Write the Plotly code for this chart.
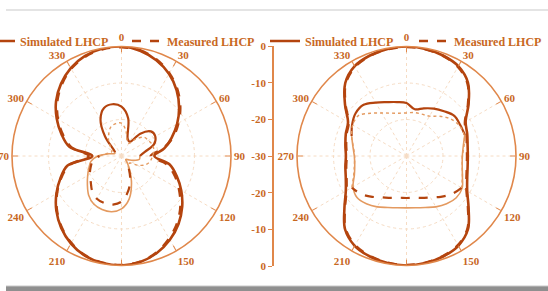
import plotly.graph_objects as go

# ---------------- data ----------------
theta = list(range(0, 360, 10))
angle_ticks = list(range(0, 360, 30))
angle_labels = ["" if a == 180 else str(a) for a in angle_ticks]
radial_ticks = [-30, -20, -10, 0, 10, 20, 30]
radial_labels = ["0", "-10", "-20", "-30", "-20", "-10", "0"]

# left pattern (dB)
left_sim_lhcp = [0, -0.7, -2.1, -4.0, -6.5, -9.4, -12.4, -15.4, -18.1, -21.0,
                 -16.6, -13.9, -11.1, -8.3, -5.7, -3.5, -1.7, -0.5, 0, -0.2,
                 -0.9, -2.3, -4.3, -6.7, -9.4, -12.2, -15.0, -22.0, -15.5, -12.5,
                 -9.5, -6.6, -4.2, -2.2, -0.8, -0.1]
left_meas_lhcp = [-0.2, -0.6, -1.9, -3.8, -6.2, -9.0, -12.0, -15.0, -18.5, -22.0,
                  -17.5, -14.5, -11.8, -8.9, -6.2, -3.9, -1.9, -0.6, -0.1, -0.3,
                  -1.0, -2.5, -4.5, -6.9, -9.6, -12.4, -15.4, -21.0, -16.0, -12.9,
                  -9.9, -7.0, -4.5, -2.4, -1.0, -0.3]
left_sim_rhcp = [-16.5, -19.5, -25.0, -25.5, -22.0, -19.5, -19.3, -20.5, -23.5, -25.0,
                 -25.0, -26.5, -28.0, -28.5, -27.5, -25.5, -22.0, -18.0, -15.5, -14.5,
                 -14.4, -14.8, -16.0, -17.8, -19.3, -20.5, -21.5, -23.5, -26.5, -28.0,
                 -28.0, -27.0, -23.0, -18.5, -16.0, -15.6]
left_meas_rhcp = [-21.0, -23.0, -25.5, -26.0, -24.0, -22.0, -21.5, -21.0, -21.0, -21.5,
                  -22.0, -23.0, -25.0, -27.0, -27.0, -26.0, -23.0, -20.0, -17.5, -16.5,
                  -16.3, -16.5, -17.5, -19.0, -20.0, -21.0, -22.0, -24.0, -26.0, -27.0,
                  -27.0, -26.0, -24.5, -23.0, -21.5, -21.0]

# right pattern (dB)
right_sim_lhcp = [0, -0.2, -0.7, -1.6, -3.8, -7.8, -11.3, -12.3, -13.0, -13.2,
                  -13.0, -12.3, -10.8, -7.8, -3.8, -1.6, -0.7, -0.2, 0, -0.2,
                  -0.7, -1.6, -3.8, -7.8, -10.8, -12.3, -13.0, -13.4, -13.0, -12.3,
                  -11.5, -8.0, -3.9, -1.6, -0.7, -0.2]
right_meas_lhcp = [-0.1, -0.3, -0.8, -1.8, -4.0, -8.0, -11.5, -12.5, -13.2, -13.4,
                   -13.2, -12.5, -11.0, -8.0, -4.0, -1.8, -0.8, -0.3, -0.1, -0.3,
                   -0.8, -1.8, -4.0, -8.0, -11.0, -12.5, -13.2, -13.6, -13.2, -12.5,
                   -11.7, -8.2, -4.1, -1.8, -0.8, -0.3]
right_sim_rhcp = [-15.5, -17.0, -16.1, -15.0, -14.0, -12.9, -13.0, -13.0, -14.2, -14.7,
                  -14.5, -13.7, -12.4, -12.2, -12.9, -13.9, -15.0, -15.6, -15.8, -15.6,
                  -15.0, -13.9, -12.9, -12.3, -13.1, -14.8, -15.6, -15.7, -15.1, -14.0,
                  -12.8, -11.8, -11.7, -13.1, -14.3, -15.0]
right_meas_rhcp = [-18.2, -17.9, -17.8, -17.4, -15.8, -14.2, -13.3, -13.2, -14.0, -14.7,
                   -14.5, -13.7, -12.6, -13.8, -15.4, -16.9, -17.8, -18.4, -18.5, -18.4,
                   -17.8, -16.9, -15.4, -13.8, -12.7, -14.6, -15.5, -15.8, -15.2, -14.0,
                   -13.0, -12.8, -14.7, -16.4, -17.5, -18.1]

# ---------------- style ----------------
DARK = "#b4440e"
LIGHT = "#e49a60"
AXIS = "#e0874a"
TEXT = "#c8681f"
GRID = "#f6dcc4"
FONT = dict(family="Liberation Serif", size=11, color=TEXT, weight="bold")


def closed(vals):
    return list(vals) + [vals[0]]


def seg(vals, start, end):
    """slice of a pattern between two angles (degrees), wrapping through 0"""
    i, j = theta.index(start), theta.index(end)
    idx = []
    k = i
    while True:
        idx.append(k)
        if k == j:
            break
        k = (k + 1) % len(theta)
    return [theta[k] for k in idx], [vals[k] for k in idx]


fig = go.Figure()


def add_chart(pid, leg_a, leg_b, sim_l, meas_l, sim_r, meas_r, r_dark, r_light, m_dark, m_light):
    th = closed(theta)
    fig.add_trace(go.Scatterpolar(r=closed(sim_l), theta=th, mode="lines", subplot=pid,
                                  name="Simulated LHCP", legend=leg_a,
                                  line=dict(color=DARK, width=2.6, shape="spline")))
    fig.add_trace(go.Scatterpolar(r=closed(meas_l), theta=th, mode="lines", subplot=pid,
                                  name="Measured LHCP", legend=leg_b,
                                  line=dict(color=DARK, width=2.6, dash="dash", shape="spline")))
    t, r = seg(sim_r, *r_dark)
    fig.add_trace(go.Scatterpolar(r=r, theta=t, mode="lines", subplot=pid, showlegend=False,
                                  line=dict(color=DARK, width=2.2, shape="spline")))
    t, r = seg(sim_r, *r_light)
    fig.add_trace(go.Scatterpolar(r=r, theta=t, mode="lines", subplot=pid, showlegend=False,
                                  line=dict(color=LIGHT, width=1.6, shape="spline")))
    t, r = seg(meas_r, *m_dark)
    fig.add_trace(go.Scatterpolar(r=r, theta=t, mode="lines", subplot=pid, showlegend=False,
                                  line=dict(color=DARK, width=2.2, dash="dash", shape="spline")))
    t, r = seg(meas_r, *m_light)
    fig.add_trace(go.Scatterpolar(r=r, theta=t, mode="lines", subplot=pid, showlegend=False,
                                  line=dict(color=LIGHT, width=1.4, dash="dot", shape="spline")))


add_chart("polar", "legend", "legend2", left_sim_lhcp, left_meas_lhcp, left_sim_rhcp, left_meas_rhcp,
          (300, 90), (90, 300), (150, 270), (270, 150))
add_chart("polar2", "legend3", "legend4", right_sim_lhcp, right_meas_lhcp, right_sim_rhcp, right_meas_rhcp,
          (290, 70), (70, 290), (120, 240), (240, 120))

# central dB scale
fig.add_trace(go.Scatter(x=[], y=[], xaxis="x", yaxis="y", showlegend=False))

W, H = 548, 291


def polar_cfg(cx, cy, R):
    return dict(
        domain=dict(x=[(cx - R) / W, (cx + R) / W], y=[(H - cy - R) / H, (H - cy + R) / H]),
        bgcolor="white",
        angularaxis=dict(rotation=90, direction="clockwise", tickmode="array",
                         tickvals=angle_ticks, ticktext=angle_labels,
                         ticks="inside", ticklen=5, tickwidth=1.2, tickcolor=AXIS,
                         linecolor=AXIS, linewidth=1.6, showgrid=True,
                         gridcolor=GRID, griddash="dot", gridwidth=1, tickfont=FONT),
        radialaxis=dict(range=[-30, 0], tickvals=[-20, -10], showticklabels=False,
                        ticks="", showline=False, gridcolor=GRID, griddash="dot", gridwidth=1),
    )


def legend_at(text_x):
    return dict(orientation="h", yanchor="middle", xanchor="left", y=1 - 41 / H,
                x=(text_x - 40) / W,
                font=dict(family="Liberation Serif", size=12, color=TEXT, weight="bold"),
                bgcolor="rgba(0,0,0,0)", itemwidth=30, tracegroupgap=0)


fig.update_layout(
    width=W, height=H,
    margin=dict(l=0, r=0, t=0, b=0, autoexpand=False),
    paper_bgcolor="white", plot_bgcolor="rgba(0,0,0,0)",
    polar=polar_cfg(121.5, 156, 109.5),
    polar2=polar_cfg(406.5, 156, 109.5),
    legend=legend_at(20),
    legend2=legend_at(167),
    legend3=legend_at(305),
    legend4=legend_at(454),
    xaxis=dict(visible=False, domain=[0.49, 0.5], range=[0, 1]),
    yaxis=dict(anchor="free", position=273 / W, side="left", domain=[(H - 266) / H, (H - 46) / H],
               range=[-30, 30], tickmode="array", tickvals=radial_ticks, ticktext=radial_labels,
               ticks="outside", ticklen=4, tickcolor=AXIS, tickwidth=1.2,
               showline=True, linecolor=AXIS, linewidth=1.6, showgrid=False, zeroline=False,
               tickfont=FONT),
    shapes=[
        dict(type="line", xref="paper", yref="paper", x0=6 / W, x1=1, y0=1 - 10 / H, y1=1 - 10 / H,
             line=dict(color="#e4e4e4", width=2)),
        dict(type="rect", xref="paper", yref="paper", x0=6 / W, x1=1, y0=0, y1=5 / H,
             fillcolor="#8f8f8f", line=dict(width=0)),
        dict(type="line", xref="paper", yref="paper", x0=6 / W, x1=1, y0=5 / H, y1=5 / H,
             line=dict(color="#c8c8c8", width=1)),
    ],
)

fig.write_html("out.html", config={"displayModeBar": False},
               post_script="document.body.style.margin='0px';")
